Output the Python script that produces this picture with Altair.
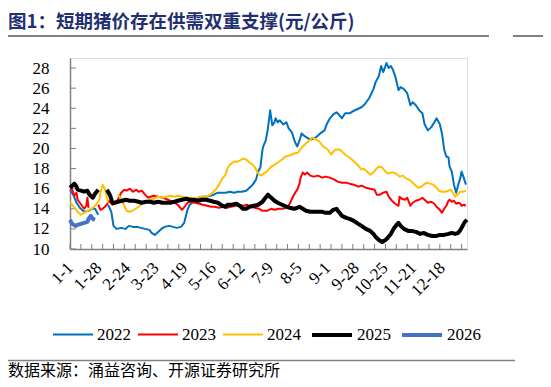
import altair as alt
import pandas as pd

TITLE = "图1：短期猪价存在供需双重支撑(元/公斤)"
SOURCE = "数据来源：涌益咨询、开源证券研究所"

years = ["2022", "2023", "2024", "2025", "2026"]
colors = ["#0070C0", "#FF0000", "#FFC000", "#000000", "#4472C4"]
widths = [2, 2, 2, 4, 4]

# x: day of year (0 = 1-1); None marks a gap (Spring Festival break)
s2022 = [(0,15.9),(3,15.4),(6,14.6),(9,14.1),(13,13.7),(17,13.8),(20,14.0),(23,14.0),(26,13.4),None,
         (35,14.4),(38,13.7),(40,12.3),(43,12.0),(47,12.1),(51,12.0),(54,12.3),(58,12.2),(62,12.2),(65,12.1),
         (69,12.0),(73,11.9),(75,11.6),(78,11.4),(81,11.7),(84,12.0),(87,12.2),(91,12.3),(95,12.2),(98,12.1),
         (102,12.2),(105,12.6),(108,13.9),(110,14.4),(114,14.7),(118,15.1),(121,15.2),(125,15.2),(129,15.3),
         (132,15.4),(136,15.6),(140,15.6),(143,15.6),(147,15.7),(151,15.6),(154,15.7),(158,15.7),(162,15.8),
         (165,16.1),(168,16.4),(171,16.9),(173,17.7),(175,18.1),(177,19.9),(178,20.3),(180,20.8),(182,22.0),
         (184,23.8),(186,22.3),(188,22.6),(189,23.0),(191,22.6),(193,22.8),(196,22.4),(199,22.6),(201,22.0),
         (204,21.6),(207,20.6),(209,20.2),(211,20.8),(213,21.5),(216,21.2),(219,21.0),(222,20.9),(226,21.1),
         (230,21.5),(234,21.8),(236,22.4),(239,23.0),(242,23.4),(245,23.6),(247,23.4),(250,23.0),(253,23.5),
         (257,23.5),(260,23.7),(264,23.9),(268,24.1),(271,24.4),(275,25.0),(279,25.9),(281,26.6),(284,27.2),
         (286,28.2),(288,27.6),(290,28.2),(291,28.5),(293,28.0),(295,28.2),(297,27.8),(299,27.2),(301,26.3),
         (302,25.8),(304,26.1),(307,25.9),(310,25.5),(313,24.3),(315,24.6),(318,24.3),(321,23.8),(324,23.5),
         (326,22.4),(329,21.8),(332,22.1),(335,22.6),(337,23.0),(340,22.4),(342,21.5),(344,19.9),(346,19.2),
         (348,19.1),(349,18.2),(351,17.7),(353,16.4),(355,15.6),(357,16.4),(359,17.1),(360,17.7),(362,17.1),
         (364,16.4)]

s2023 = [(0,16.3),(2,15.9),(4,15.3),(6,15.6),(7,14.9),(9,14.6),(11,14.3),(13,14.0),(15,14.3),(16,15.1),(17,14.1),None,
         (26,14.4),(28,13.9),(30,14.0),(33,14.3),(36,14.8),(39,14.4),(41,14.5),(44,14.9),(47,15.6),(50,15.9),
         (52,15.8),(55,16.0),(58,15.7),(61,15.9),(63,15.7),(66,15.8),(69,15.4),(72,15.1),(74,15.2),(77,15.3),
         (81,15.2),(85,15.1),(88,15.0),(92,14.8),(96,14.6),(99,14.4),(103,13.9),(106,14.3),(108,14.6),(111,14.7),
         (115,14.6),(119,14.5),(122,14.4),(126,14.3),(130,14.2),(133,14.2),(137,14.1),(141,14.2),(144,14.1),
         (148,14.2),(152,14.3),(155,14.4),(159,14.3),(163,14.4),(166,14.2),(170,14.1),(174,14.0),(177,13.8),
         (181,13.8),(185,14.0),(188,13.9),(192,14.0),(196,14.0),(200,14.2),(202,14.5),(205,15.2),(207,15.6),
         (209,15.9),(211,16.5),(212,17.1),(214,17.6),(216,17.4),(218,17.6),(221,17.3),(224,17.2),(228,17.3),
         (232,17.1),(235,17.2),(239,17.1),(243,16.9),(246,16.7),(250,16.6),(254,16.6),(257,16.5),(261,16.4),
         (265,16.2),(268,16.3),(272,16.1),(276,16.0),(280,15.9),(282,15.4),(285,15.4),(288,15.6),(291,15.7),
         (293,15.2),(296,14.8),(299,14.5),(302,14.3),(303,15.2),(305,15.0),(308,14.9),(310,15.1),(313,14.3),
         (315,14.6),(318,14.8),(321,14.9),(324,15.1),(326,14.9),(329,14.6),(332,14.7),(335,14.5),(337,14.2),
         (340,13.9),(342,13.6),(344,14.0),(346,14.3),(348,14.8),(349,14.9),(351,14.7),(353,14.8),(355,14.5),
         (357,14.6),(359,14.5),(360,14.3),(362,14.4),(364,14.3)]

s2024 = [(0,14.7),(2,14.4),(5,14.0),(7,13.7),(10,13.4),(13,13.6),(16,13.8),(18,13.9),(21,14.1),(24,14.4),(27,14.9),
         (28,15.6),(30,16.4),(32,16.0),(34,15.1),(35,14.6),None,
         (44,15.4),(47,15.0),(50,14.3),(52,13.8),(55,13.7),(59,13.9),(63,14.2),(66,14.5),(70,14.7),(74,14.9),
         (77,15.0),(81,15.2),(85,15.1),(88,15.2),(92,15.3),(96,15.2),(99,15.3),(103,15.2),(107,15.1),(110,15.1),
         (114,15.0),(118,15.1),(121,15.2),(125,15.2),(129,15.4),(131,15.6),(134,15.9),(137,16.4),(140,17.0),
         (143,17.4),(145,18.1),(148,18.5),(151,18.7),(154,18.7),(156,18.8),(159,19.0),(162,18.9),(165,18.6),
         (167,18.5),(170,18.1),(173,17.5),(176,17.3),(178,17.5),(181,17.7),(184,18.1),(188,18.4),(191,18.6),
         (195,18.9),(198,19.2),(202,19.3),(206,19.5),(210,19.6),(213,20.1),(217,20.5),(221,20.9),(223,21.1),
         (226,20.9),(229,20.7),(232,20.3),(234,20.1),(237,19.9),(240,19.4),(243,19.8),(245,19.9),(248,19.9),
         (251,19.6),(254,19.3),(257,19.1),(259,18.9),(262,18.6),(265,18.3),(268,17.9),(270,18.0),(273,17.7),
         (276,17.4),(279,17.6),(281,17.9),(284,18.2),(287,18.1),(290,17.7),(292,17.5),(295,17.6),(298,17.6),
         (301,17.4),(303,17.2),(306,17.3),(309,17.0),(312,16.9),(314,16.7),(317,16.4),(320,16.1),(323,16.2),
         (325,16.4),(328,16.6),(331,16.5),(334,16.4),(337,16.1),(339,15.8),(342,15.7),(345,15.7),(348,15.8),
         (350,15.9),(352,15.6),(354,15.2),(356,15.4),(359,15.7),(361,15.7),(364,15.8)]

s2025 = [(0,16.1),(2,16.3),(4,16.5),(6,16.2),(7,15.9),(10,15.8),(13,15.7),(16,15.8),(18,15.4),(21,15.1),(23,15.5),
         (26,15.9),None,
         (34,15.9),(37,15.3),(39,14.6),(41,14.6),(44,14.7),(48,14.8),(51,14.9),(55,14.8),(59,14.8),(63,14.7),
         (66,14.6),(70,14.7),(74,14.7),(77,14.6),(81,14.7),(85,14.6),(88,14.6),(92,14.6),(96,14.7),(99,14.8),
         (103,14.9),(107,15.0),(110,14.9),(114,14.9),(118,14.8),(121,14.9),(125,14.9),(129,14.8),(132,14.7),
         (136,14.6),(140,14.3),(143,14.2),(145,14.4),(149,14.4),(153,14.5),(156,14.3),(159,14.0),(162,14.0),
         (165,14.2),(169,14.3),(173,14.4),(177,14.7),(179,15.0),(182,15.4),(185,15.1),(188,14.8),(191,14.6),
         (195,14.4),(199,14.2),(202,14.1),(206,14.0),(209,14.1),(211,14.2),(214,14.0),(217,13.8),(221,13.7),
         (224,13.7),(228,13.7),(232,13.7),(235,13.6),(239,13.6),(242,13.9),(245,14.0),(247,13.7),(250,13.3),
         (254,13.1),(257,13.0),(261,12.8),(265,12.5),(268,12.3),(272,12.0),(276,11.8),(279,11.5),(281,11.2),
         (284,10.9),(287,10.7),(290,10.9),(292,11.1),(295,11.5),(298,12.1),(301,12.5),(302,12.6),(304,12.3),
         (307,12.0),(311,11.8),(314,11.8),(318,11.7),(322,11.5),(325,11.6),(329,11.4),(333,11.3),(337,11.3),
         (340,11.4),(344,11.4),(348,11.5),(351,11.6),(354,11.5),(357,11.6),(359,11.9),(361,12.3),(363,12.7),
         (365,12.9)]

s2026 = [(0,12.9),(2,12.5),(5,12.3),(7,12.4),(10,12.5),(13,12.6),(16,12.7),(17,13.0),(19,13.3),(21,13.0),(23,12.9)]

x_label_text = ["1-1", "1-28", "2-24", "3-23", "4-19", "5-16", "6-12", "7-9", "8-5", "9-1",
                "9-28", "10-25", "11-21", "12-18"]
label_step = 26.3  # spacing of the category labels on the axis (as drawn in the source)
x_label_pos = [round(i * label_step, 1) for i in range(len(x_label_text))]
x_tick_days = list(range(0, 361, 10))
y_ticks = [10, 12, 14, 16, 18, 20, 22, 24, 26, 28]

rows = []
for yr, series in zip(years, [s2022, s2023, s2024, s2025, s2026]):
    seg = 0
    for p in series:
        if p is None:
            seg += 1
            continue
        rows.append({"day": p[0], "price": p[1], "year": yr, "seg": f"{yr}-{seg}"})
df = pd.DataFrame(rows)

W, H = 397, 191
GRAY = "#808080"
SERIF = "Liberation Serif"

label_arr = "[" + ",".join(f"'{t}'" for t in x_label_text) + "]"

xaxis = alt.Axis(values=x_label_pos, labelExpr=f"{label_arr}[round(datum.value/{label_step})]",
                 labelAngle=-45, labelAlign="right", labelBaseline="middle",
                 ticks=False, tickSize=0, labelPadding=16, domainColor=GRAY, domainWidth=1.5,
                 labelFont=SERIF, labelFontSize=17, labelColor="black", grid=False, title=None,
                 labelOverlap=False, labelFlush=False)
yaxis = alt.Axis(values=y_ticks, ticks=False, tickSize=0, labelPadding=21, domainColor=GRAY,
                 domainWidth=1.5, labelFont=SERIF, labelFontSize=17, labelColor="black",
                 grid=False, title=None)
xs = alt.Scale(domain=[0, 365], nice=False, zero=False)
ys = alt.Scale(domain=[10, 29], nice=False, zero=False)

leg = alt.Legend(title=None, orient="none", direction="horizontal",
                 legendX=-18, legendY=255, symbolType="stroke",
                 symbolSize=1600, labelFont=SERIF, labelFontSize=17,
                 labelColor="black", columnPadding=3, labelOffset=3, padding=0)

lines = alt.Chart(df).mark_line(strokeJoin="round", strokeCap="butt").encode(
    x=alt.X("day:Q", scale=xs, axis=xaxis),
    y=alt.Y("price:Q", scale=ys, axis=yaxis),
    color=alt.Color("year:O", scale=alt.Scale(type="ordinal", domain=years, range=colors), legend=leg),
    strokeWidth=alt.StrokeWidth("year:O", scale=alt.Scale(type="ordinal", domain=years, range=widths),
                                legend=leg),
    detail="seg:N",
    order="day:Q",
)

xt = alt.Chart(pd.DataFrame({"day": x_tick_days})).mark_rule(color=GRAY, strokeWidth=1).encode(
    x=alt.X("day:Q", scale=xs, axis=xaxis), y=alt.value(H - 5), y2=alt.value(H))
yt = alt.Chart(pd.DataFrame({"v": y_ticks})).mark_rule(color=GRAY, strokeWidth=1).encode(
    y=alt.Y("v:Q", scale=ys, axis=yaxis), x=alt.value(0), x2=alt.value(6))

one = pd.DataFrame({"t": [TITLE]})
title = alt.Chart(one).mark_text(align="left", baseline="middle", font="Noto Sans CJK SC",
                                 fontWeight="bold", fontSize=18.5, color="#1F2F6F").encode(
    text="t:N", x=alt.value(-62), y=alt.value(-36.5))
title_rule = alt.Chart(one).mark_rule(color=GRAY, strokeWidth=2).encode(
    x=alt.value(-65), x2=alt.value(419), y=alt.value(-22))
title_rule2 = alt.Chart(one).mark_rule(color=GRAY, strokeWidth=2).encode(
    x=alt.value(443), x2=alt.value(481), y=alt.value(-22))
src = pd.DataFrame({"t": [SOURCE]})
foot_rule = alt.Chart(src).mark_rule(color=GRAY, strokeWidth=1.5).encode(
    x=alt.value(-70), x2=alt.value(445), y=alt.value(302.5))
foot = alt.Chart(src).mark_text(align="left", baseline="middle", font="Noto Sans CJK SC",
                                fontSize=16, color="black").encode(
    text="t:N", x=alt.value(-62), y=alt.value(312.5))

chart = alt.layer(xt, yt, lines, title, title_rule, title_rule2, foot_rule, foot).properties(
    width=W, height=H,
    autosize=alt.AutoSizeParams(type="none"),
    padding={"left": 62, "top": 50, "right": 76, "bottom": 130},
).configure_view(stroke=None).configure(background="white")

chart.save("out.html", embed_options={"renderer": "svg", "actions": False})
